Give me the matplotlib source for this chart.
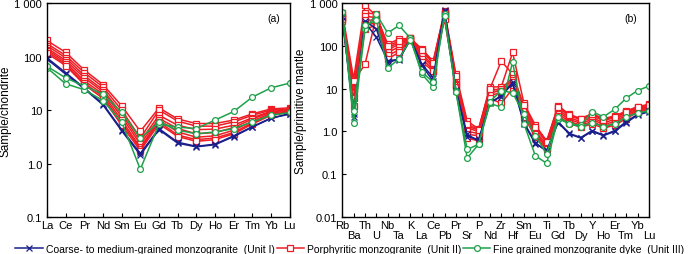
import numpy as np
import matplotlib
matplotlib.use("Agg")
import matplotlib.pyplot as plt
from matplotlib.ticker import FixedLocator, NullLocator

plt.rcParams['font.family'] = ['Liberation Sans', 'DejaVu Sans']

# chondrite-normalised REE (panel a)
ree = ['La', 'Ce', 'Pr', 'Nd', 'Sm', 'Eu', 'Gd', 'Tb', 'Dy', 'Ho', 'Er', 'Tm', 'Yb', 'Lu']

ree_unit1 = [
    [95, 50, 26, 13, 4.3, 1.55, 4.5, 2.5, 2.1, 2.3, 3.3, 4.9, 7.1, 8.4],
    [90, 47, 25, 12.5, 4.1, 1.45, 4.3, 2.4, 2.05, 2.25, 3.2, 4.8, 7.0, 8.6],
]
ree_unit2 = [
    [200, 120, 56, 30, 12, 4.0, 11, 6.8, 5.6, 5.6, 6.5, 8.5, 10.5, 11],
    [175, 105, 50, 27, 10, 3.0, 10, 6.2, 5.0, 5.0, 6.0, 8.0, 10, 10.5],
    [160, 95, 44, 24, 8.5, 2.6, 8, 5.2, 4.3, 4.4, 5.2, 7.2, 9.5, 10],
    [145, 85, 40, 22, 7.5, 2.3, 7, 4.5, 3.6, 3.8, 4.7, 6.8, 9.2, 10],
    [135, 78, 35, 20, 6.5, 2.0, 6.5, 3.9, 3.1, 3.3, 4.2, 6.2, 8.8, 9.6],
    [125, 72, 32, 18, 5.8, 1.9, 6.0, 3.4, 2.8, 3.0, 3.8, 5.8, 8.3, 9.3],
    [115, 68, 30, 16.5, 5.2, 1.75, 5.5, 3.2, 2.6, 2.8, 3.6, 5.5, 8.0, 9.0],
]
ree_unit3 = [
    [62, 31, 24, 15, 6, 0.78, 5.5, 4.8, 4.5, 6.5, 9.4, 17.5, 26, 32],
    [66, 40, 28, 20, 9, 3.0, 6.0, 4.2, 3.6, 3.9, 4.5, 6.0, 8.0, 9.0],
]

# primitive-mantle-normalised spider (panel b)
spider = ['Rb', 'Ba', 'Th', 'U', 'Nb', 'Ta', 'K', 'La', 'Ce', 'Pb', 'Pr', 'Sr', 'P', 'Nd',
          'Zr', 'Hf', 'Sm', 'Eu', 'Ti', 'Gd', 'Tb', 'Dy', 'Y', 'Ho', 'Er', 'Tm', 'Yb', 'Lu']

sp_unit1 = [
    [500, 2.2, 380, 250, 40, 50, 145, 38, 18, 700, 9.5, 0.85, 0.6, 4.5, 7, 13, 1.5, 0.52, 0.36, 1.6, 0.87, 0.70, 1.0, 0.80, 1.0, 1.6, 2.4, 2.9],
    [480, 2.6, 350, 160, 45, 48, 140, 35, 15, 650, 9.0, 0.75, 0.65, 4.8, 6.5, 14, 1.6, 0.55, 0.34, 1.7, 0.9, 0.72, 1.05, 0.82, 1.05, 1.7, 2.5, 3.0],
]
sp_unit2 = [
    [600, 17, 900, 500, 110, 145, 150, 85, 44, 650, 22, 1.75, 1.15, 11, 11, 70, 4.5, 1.4, 0.6, 4.0, 2.5, 2.0, 2.6, 2.0, 2.3, 3.0, 3.8, 4.3],
    [550, 12, 600, 550, 90, 120, 150, 75, 40, 600, 18, 1.3, 1.1, 10, 44, 22, 4.0, 1.2, 0.55, 3.6, 2.3, 1.9, 2.3, 1.8, 2.1, 2.8, 3.6, 4.0],
    [500, 10, 500, 450, 80, 110, 145, 65, 35, 550, 15, 1.2, 1.0, 9, 10, 18, 3.5, 1.0, 0.5, 3.2, 2.1, 1.7, 2.1, 1.6, 1.9, 2.6, 3.4, 3.8],
    [450, 8, 400, 400, 70, 95, 145, 58, 32, 500, 13, 1.0, 0.9, 8, 9, 16, 3.0, 0.9, 0.45, 2.9, 1.9, 1.55, 1.9, 1.45, 1.7, 2.4, 3.2, 3.7],
    [420, 6, 300, 350, 60, 80, 140, 50, 28, 450, 12, 0.85, 0.8, 7, 8, 14, 2.6, 0.85, 0.42, 2.6, 1.7, 1.4, 1.7, 1.3, 1.55, 2.2, 3.0, 3.5],
    [380, 4, 250, 300, 50, 70, 140, 42, 26, 420, 11, 0.7, 0.6, 6, 4.5, 10, 2.2, 0.75, 0.38, 2.3, 1.55, 1.25, 1.5, 1.2, 1.4, 2.0, 2.8, 3.3],
    [420, 15, 37, 500, 100, 130, 150, 80, 40, 600, 20, 1.5, 1.1, 10, 9, 12, 4.2, 1.3, 0.58, 3.8, 2.4, 2.0, 2.5, 1.9, 2.2, 2.9, 3.7, 4.1],
]
sp_unit3 = [
    [600, 1.6, 250, 550, 200, 300, 150, 22, 11, 550, 9, 0.24, 0.5, 4.5, 3.7, 42, 1.5, 0.27, 0.18, 2.0, 1.5, 1.4, 2.9, 2.2, 3.3, 6.0, 9.0, 11.5],
    [620, 3, 300, 400, 30, 50, 140, 25, 14, 500, 8.5, 0.38, 0.5, 5, 9, 8, 2.5, 0.8, 0.3, 2.2, 1.5, 1.3, 1.6, 1.3, 1.5, 2.2, 2.7, 3.0],
]

labels = ['Coarse- to medium-grained monzogranite  (Unit I)',
          'Porphyritic monzogranite  (Unit II)',
          'Fine grained monzogranite dyke  (Unit III)']

blue = '#1a1f8c'
red = '#ee1c24'
green = '#1ea14a'


def draw(ax, n, groups):
    x = np.arange(n)
    h = []
    for data, c, m in groups:
        for row in data:
            line, = ax.plot(x, row, color=c, lw=1.1, marker=m, ms=4.2,
                            mfc='white' if m != 'x' else c, mec=c, mew=0.9)
        h.append(line)
    return h


fig = plt.figure(figsize=(7, 2.55), dpi=100)
ax1 = fig.add_axes([0.067, 0.145, 0.347, 0.839])
ax2 = fig.add_axes([0.489, 0.145, 0.438, 0.839])

groups_a = [(ree_unit2, red, 's'), (ree_unit1, blue, 'x'), (ree_unit3, green, 'o')]
groups_b = [(sp_unit2, red, 's'), (sp_unit1, blue, 'x'), (sp_unit3, green, 'o')]
ha = draw(ax1, len(ree), groups_a)
draw(ax2, len(spider), groups_b)

for ax in (ax1, ax2):
    ax.set_yscale('log')
    ax.yaxis.set_minor_locator(NullLocator())
    ax.tick_params(which='both', direction='in', length=3, width=0.8, labelsize=8,
                   top=False, right=False)
    ax.tick_params(axis='x', which='major', pad=2.5)
    ax.tick_params(axis='y', pad=3.5)
    for s in ax.spines.values():
        s.set_linewidth(1.0)

ax1.set_xlim(0, len(ree) - 1)
ax1.set_ylim(0.1, 1000)
ax1.yaxis.set_major_locator(FixedLocator([0.1, 1, 10, 100, 1000]))
ax1.set_yticklabels(['0.1', '1.0', '10', '100', '1 000'])
ax1.set_xticks(np.arange(len(ree)))
ax1.set_xticklabels(ree)
ax1.set_ylabel('Sample/chondrite', fontsize=8.5, labelpad=2)
ax1.text(0.96, 0.955, '(a)', transform=ax1.transAxes, ha='right', va='top', fontsize=7.5)

ax2.set_xlim(0, len(spider) - 1)
ax2.set_ylim(0.01, 1000)
ax2.yaxis.set_major_locator(FixedLocator([0.01, 0.1, 1, 10, 100, 1000]))
ax2.set_yticklabels(['0.01', '0.1', '1.0', '10', '100', '1 000'])
# even elements on the first row (major ticks), odd ones on the second row (minor ticks)
xb = np.arange(len(spider))
ax2.set_xticks(xb[0::2])
ax2.set_xticklabels(spider[0::2])
ax2.set_xticks(xb[1::2], minor=True)
ax2.set_xticklabels(spider[1::2], minor=True)
ax2.tick_params(axis='x', which='minor', pad=9.5)
ax2.set_ylabel('Sample/primitive mantle', fontsize=8.5, labelpad=2)
ax2.text(0.96, 0.955, '(b)', transform=ax2.transAxes, ha='right', va='top', fontsize=7.5)

order = [1, 0, 2]
fig.legend([ha[i] for i in order], labels, loc='lower center', bbox_to_anchor=(0.5, -0.025),
           ncol=3, frameon=False, fontsize=7.5, handlelength=2.6, handletextpad=0.3,
           columnspacing=0.2, borderaxespad=0.2)

fig.savefig('out.png', dpi=100)
